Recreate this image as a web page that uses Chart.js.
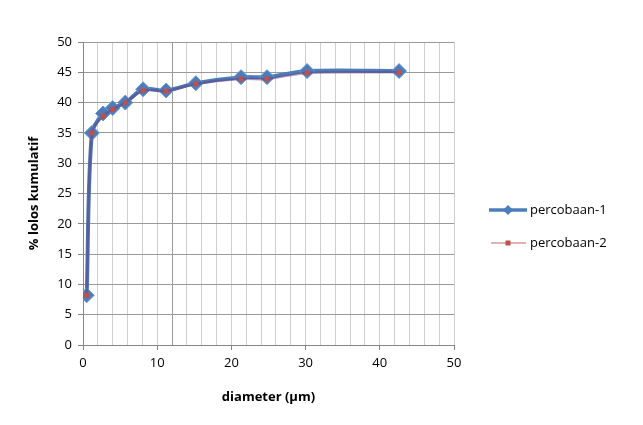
<!DOCTYPE html>
<html>
<head>
<meta charset="utf-8">
<script src="https://cdn.jsdelivr.net/npm/chart.js@4"></script>
<style>
html,body{margin:0;padding:0;background:#fff;}
#wrap{width:643px;height:425px;position:relative;}
</style>
</head>
<body>
<div id="wrap"><canvas id="c" width="643" height="425"></canvas></div>
<script>
const seriesNames = ['percobaan-1', 'percobaan-2'];
const diameter = [0.5, 1.2, 2.7, 4.0, 5.7, 8.1, 11.2, 15.2, 21.3, 24.8, 30.2, 42.6];
const lolos1 = [8.2, 35, 38.2, 39.1, 40, 42.2, 42, 43.2, 44.2, 44.2, 45.2, 45.2];
const lolos2 = [8.2, 35, 37.8, 38.9, 40, 42, 41.9, 43.1, 43.9, 43.9, 44.9, 45];
const xTitle = 'diameter (µm)';
const yTitle = '% lolos kumulatif';

const FONT = "'Open Sans', 'Noto Sans', sans-serif";
const BLUE = '#4A7EBB';
const RED = '#C0504D';

const pts = (xs, ys) => xs.map((x, i) => ({x: x, y: ys[i]}));

const legendPlugin = {
  id: 'customLegend',
  afterDraw(chart) {
    const ctx = chart.ctx;
    ctx.save();
    ctx.font = '13px ' + FONT;
    ctx.fillStyle = '#000';
    ctx.textBaseline = 'middle';
    let y = 210;
    ctx.strokeStyle = BLUE; ctx.lineWidth = 3.5;
    ctx.beginPath(); ctx.moveTo(489, y); ctx.lineTo(527, y); ctx.stroke();
    ctx.fillStyle = BLUE;
    ctx.beginPath(); ctx.moveTo(508, y - 5); ctx.lineTo(513, y); ctx.lineTo(508, y + 5); ctx.lineTo(503, y); ctx.closePath(); ctx.fill();
    ctx.fillStyle = '#000';
    ctx.fillText(seriesNames[0], 530, y);
    y = 243;
    ctx.strokeStyle = 'rgba(192,80,77,0.6)'; ctx.lineWidth = 1.5;
    ctx.beginPath(); ctx.moveTo(491, y); ctx.lineTo(526, y); ctx.stroke();
    ctx.fillStyle = RED;
    ctx.fillRect(505.5, y - 2.5, 5, 5);
    ctx.fillStyle = '#000';
    ctx.fillText(seriesNames[1], 530, y);
    ctx.restore();
  }
};

new Chart(document.getElementById('c'), {
  type: 'scatter',
  data: {
    datasets: [
      {
        label: seriesNames[0],
        data: pts(diameter, lolos1),
        order: 2,
        showLine: true,
        borderColor: BLUE,
        borderWidth: 4,
        backgroundColor: BLUE,
        pointStyle: 'rectRot',
        pointRadius: 7.5,
        pointBorderWidth: 1,
        pointBorderColor: '#6f98cc',
        pointBackgroundColor: BLUE,
        tension: 0.3
      },
      {
        label: seriesNames[1],
        data: pts(diameter, lolos2),
        order: 1,
        showLine: true,
        borderColor: 'rgba(110,50,120,0.45)',
        borderWidth: 2.5,
        backgroundColor: RED,
        pointStyle: 'rect',
        pointRadius: 3.2,
        pointBorderWidth: 0.5,
        pointBorderColor: RED,
        pointBackgroundColor: RED,
        tension: 0.3
      }
    ]
  },
  options: {
    responsive: false,
    animation: false,
    layout: {padding: {left: 22, right: 189, top: 42, bottom: 16}},
    plugins: {legend: {display: false}, tooltip: {enabled: false}},
    scales: {
      x: {
        type: 'linear',
        min: 0, max: 50,
        afterFit(s) { s.height = 64; },
        ticks: {
          stepSize: 2,
          autoSkip: false,
          maxRotation: 0,
          padding: 5,
          color: '#000',
          font: {family: FONT, size: 13},
          callback: v => (v % 10 === 0 ? String(v) : '')
        },
        grid: {
          color: ctx => (ctx.tick && ctx.tick.value === 12 ? '#9a9a9a' : '#cfcfcf'),
          lineWidth: 1,
          tickLength: 5,
          tickColor: ctx => (ctx.tick && ctx.tick.value % 10 === 0 ? '#868686' : 'rgba(0,0,0,0)')
        },
        border: {color: '#868686', width: 1},
        title: {display: true, text: xTitle, color: '#000', font: {family: FONT, size: 13, weight: 'bold'}, padding: {top: 4, bottom: 4}}
      },
      y: {
        min: 0, max: 50,
        afterFit(s) { s.width = 61; },
        ticks: {
          stepSize: 5,
          padding: 6,
          color: '#000',
          font: {family: FONT, size: 13}
        },
        grid: {color: '#9a9a9a', lineWidth: 1, tickLength: 5, tickColor: '#868686'},
        border: {color: '#868686', width: 1},
        title: {display: true, text: yTitle, color: '#000', font: {family: FONT, size: 13, weight: 'bold'}, padding: {top: 4, bottom: 4}}
      }
    }
  },
  plugins: [legendPlugin]
});
</script>
</body>
</html>
